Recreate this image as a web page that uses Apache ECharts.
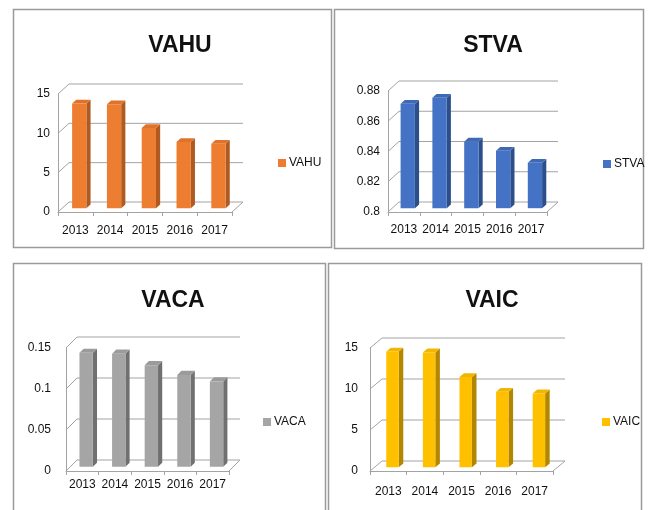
<!DOCTYPE html>
<html>
<head>
<meta charset="utf-8">
<script src="https://cdn.jsdelivr.net/npm/echarts@6/dist/echarts.min.js"></script>
<style>
html,body{margin:0;padding:0;background:#fff;}
#c{width:651px;height:510px;}
</style>
</head>
<body>
<div id="c"></div>
<script>
// ---- data ----
const years = ['2013', '2014', '2015', '2016', '2017'];
const vahu = [13.3, 13.2, 10.2, 8.4, 8.2];
const stva = [0.869, 0.873, 0.844, 0.838, 0.830];
const vaca = [0.139, 0.138, 0.124, 0.112, 0.104];
const vaic = [14.1, 14.0, 11.0, 9.2, 9.0];
const vahuTicks = [0, 5, 10, 15];
const stvaTicks = [0.8, 0.82, 0.84, 0.86, 0.88];
const vacaTicks = [0, 0.05, 0.1, 0.15];
const vaicTicks = [0, 5, 10, 15];

// ---- layout / style ----
const panels = [
  { name: 'VAHU', values: vahu, ticks: vahuTicks, interval: 5,
    grid: { left: 58, top: 94, width: 174, height: 118 }, d: [11, 10],
    barFrac: 0.41, yMargin: 8, xMargin: 13,
    title: [175, 42], legend: [273, 152], border: [13, 9, 318, 238],
    colors: ['#ED7D31', '#E0722A', '#AE5A20'] },
  { name: 'STVA', values: stva, ticks: stvaTicks, interval: 0.02,
    grid: { left: 388, top: 91, width: 159, height: 121 }, d: [11, 10],
    barFrac: 0.45, yMargin: 8, xMargin: 12,
    title: [488, 42], legend: [598, 153], border: [334, 9, 309, 239],
    colors: ['#4472C4', '#3E69B6', '#2C4E8A'] },
  { name: 'VACA', values: vaca, ticks: vacaTicks, interval: 0.05,
    grid: { left: 66, top: 348, width: 163, height: 123 }, d: [11, 11],
    barFrac: 0.41, yMargin: 15, xMargin: 8,
    title: [168, 297], legend: [258, 411], border: [13, 263, 312, 260],
    colors: ['#A5A5A5', '#9B9B9B', '#707070'] },
  { name: 'VAIC', values: vaic, ticks: vaicTicks, interval: 5,
    grid: { left: 370, top: 348, width: 183, height: 123 }, d: [12, 10],
    barFrac: 0.34, yMargin: 12, xMargin: 15,
    title: [487, 297], legend: [597, 411], border: [328, 263, 313, 260],
    colors: ['#FFC000', '#F2B600', '#B38600'] }
];
const lineColor = '#A3A3A3';
const font = 'Liberation Sans, Arial, sans-serif';

const chart = echarts.init(document.getElementById('c'), null, { renderer: 'canvas' });

const option = {
  backgroundColor: '#fff',
  animation: false,
  title: [], legend: [], grid: [], xAxis: [], yAxis: [], series: [],
  graphic: []
};

panels.forEach((p, k) => {
  const yMin = p.ticks[0], yMax = p.ticks[p.ticks.length - 1];
  option.graphic.push({
    type: 'rect', silent: true, z: 0,
    shape: { x: p.border[0] + 0.5, y: p.border[1] + 0.5, width: p.border[2], height: p.border[3] },
    style: { fill: 'none', stroke: '#9A9A9A', lineWidth: 1.5 }
  });
  option.title.push({
    text: p.name, left: p.title[0], top: p.title[1] - 13, textAlign: 'center',
    textStyle: { fontFamily: font, fontWeight: 'bold', fontSize: 23, color: '#111' }
  });
  option.legend.push({
    data: [p.name], left: p.legend[0], top: p.legend[1],
    icon: 'rect', itemWidth: 8, itemHeight: 8, itemGap: 0,
    selectedMode: false,
    textStyle: { fontFamily: font, fontSize: 12, color: '#111', padding: [0, 0, 0, -2] }
  });
  option.grid.push(Object.assign({ outerBoundsMode: 'none', containLabel: false }, p.grid));
  option.xAxis.push({
    type: 'category', gridIndex: k, data: years, boundaryGap: true,
    axisLine: { show: true, lineStyle: { color: lineColor, width: 1 } },
    axisTick: { show: true, length: 4, alignWithLabel: false, lineStyle: { color: lineColor } },
    axisLabel: { fontFamily: font, fontSize: 12, color: '#111', margin: p.xMargin, interval: 0 },
    splitLine: { show: false }
  });
  option.yAxis.push({
    type: 'value', gridIndex: k, min: yMin, max: yMax, interval: p.interval,
    axisLine: { show: true, lineStyle: { color: lineColor, width: 1 } },
    axisTick: { show: false },
    axisLabel: { fontFamily: font, fontSize: 12, color: '#111', margin: p.yMargin },
    splitLine: { show: false }
  });
  // back wall + floor lines
  option.series.push({
    type: 'custom', xAxisIndex: k, yAxisIndex: k, clip: false, silent: true, z: 1,
    data: p.ticks.map(t => [0, t]),
    renderItem: function (params, api) {
      const cs = params.coordSys;
      const y = api.coord([0, api.value(1)])[1];
      const x0 = cs.x, x1 = cs.x + cs.width;
      const dx = p.d[0], dy = p.d[1];
      const st = { stroke: lineColor, lineWidth: 1, fill: 'none' };
      const children = [
        { type: 'line', shape: { x1: x0, y1: y, x2: x0 + dx, y2: y - dy }, style: st },
        { type: 'line', shape: { x1: x0 + dx, y1: y - dy, x2: x1 + dx, y2: y - dy }, style: st }
      ];
      if (api.value(1) === yMin) {
        children.push({ type: 'line', shape: { x1: x1, y1: y, x2: x1 + dx, y2: y - dy }, style: st });
      }
      return { type: 'group', children: children };
    }
  });
  // 3D bars
  option.series.push({
    name: p.name, type: 'custom', xAxisIndex: k, yAxisIndex: k, clip: false, z: 2,
    itemStyle: { color: p.colors[0] },
    data: p.values.map((v, i) => [i, v]),
    renderItem: function (params, api) {
      const i = api.value(0);
      const c0 = api.coord([i, yMin]);
      const c1 = api.coord([i, api.value(1)]);
      const w = api.size([1, 0])[0] * p.barFrac;
      const fx = p.d[0] * 0.35, fy = p.d[1] * 0.38;
      const bx = p.d[0] * 0.38, by = p.d[1] * 0.38;
      const xl = c0[0] - w / 2 + fx, xr = xl + w;
      const yb = c0[1] - fy, yt = c1[1] - fy;
      return {
        type: 'group',
        children: [
          { type: 'polygon', shape: { points: [[xr, yb], [xr + bx, yb - by], [xr + bx, yt - by], [xr, yt]] },
            style: { fill: p.colors[2] } },
          { type: 'polygon', shape: { points: [[xl, yt], [xl + bx, yt - by], [xr + bx, yt - by], [xr, yt]] },
            style: { fill: p.colors[1] } },
          { type: 'rect', shape: { x: xl, y: yt, width: w, height: yb - yt },
            style: { fill: p.colors[0] } }
        ]
      };
    }
  });
});

chart.setOption(option);
</script>
</body>
</html>
